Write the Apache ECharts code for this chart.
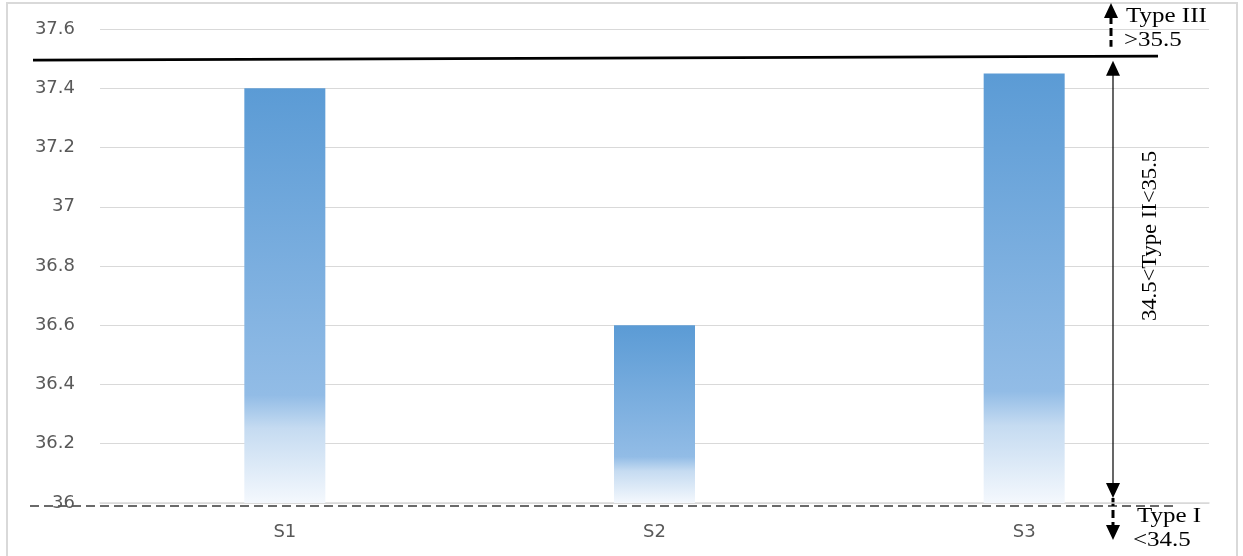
<!DOCTYPE html>
<html>
<head>
<meta charset="utf-8">
<script src="https://cdn.jsdelivr.net/npm/echarts@6/dist/echarts.min.js"></script>
<style>
  html, body { margin: 0; padding: 0; background: #fff; }
  #main { width: 1243px; height: 556px; }
</style>
</head>
<body>
<div id="main"></div>
<script>
const categories = ['S1', 'S2', 'S3']
const values = [37.4, 36.6, 37.45]
const yTicks = [36, 36.2, 36.4, 36.6, 36.8, 37, 37.2, 37.4, 37.6]
const typeIIILimit = 37.5   // solid black line
const typeILimit = 36       // dashed line at the base

const chart = echarts.init(document.getElementById('main'))

const barColor = new echarts.graphic.LinearGradient(0, 0, 0, 1, [
  { offset: 0, color: '#5b9bd5' },
  { offset: 0.74, color: '#92bce6' },
  { offset: 0.82, color: '#c5dbf1' },
  { offset: 1, color: '#f4f8fd' }
])

const options = {
  animation: false,
  grid: { left: 100, right: 34, top: 29, bottom: 53 },
  xAxis: {
    type: 'category',
    data: categories,
    axisTick: { show: false },
    axisLine: { show: true, lineStyle: { color: '#d9d9d9', width: 1.5 } },
    axisLabel: { color: '#595959', fontSize: 18, fontFamily: 'DejaVu Sans', margin: 20 }
  },
  yAxis: {
    type: 'value',
    min: yTicks[0],
    max: yTicks[yTicks.length - 1],
    interval: 0.2,
    axisLine: { show: false },
    axisTick: { show: false },
    splitLine: { lineStyle: { color: '#d9d9d9', width: 1.2 } },
    axisLabel: {
      color: '#595959', fontSize: 18, fontFamily: 'DejaVu Sans', margin: 25,
      formatter: v => String(Math.round(v * 10) / 10)
    }
  },
  series: [{
    type: 'bar',
    data: values,
    barWidth: 81,
    itemStyle: { color: barColor }
  }]
}
chart.setOption(options)

// overlay: category limits and arrows
const yTop = chart.convertToPixel({ yAxisIndex: 0 }, typeIIILimit)
const yBase = chart.convertToPixel({ yAxisIndex: 0 }, typeILimit) + 3
const ax = 1113
const serif = '20px Liberation Serif'

const arrowHead = (x, tipY, dir) => ({
  type: 'polygon',
  shape: { points: [[x, tipY], [x - 7, tipY - dir * 15], [x + 7, tipY - dir * 15]] },
  style: { fill: '#000' }
})

const label = (x, y, text) => ({
  type: 'text', x: x, y: y, scaleX: 1.25,
  style: { text: text, font: serif, fill: '#000' }
})

chart.setOption({
  graphic: [
    { type: 'rect', shape: { x: 7, y: 3, width: 1230, height: 560 }, style: { fill: 'none', stroke: '#d9d9d9', lineWidth: 2 } },
    { type: 'line', shape: { x1: 33, y1: yTop + 1.5, x2: 1158, y2: yTop - 2.5 }, style: { stroke: '#000', lineWidth: 3 } },
    { type: 'line', shape: { x1: 30, y1: yBase, x2: 1178, y2: yBase }, style: { stroke: '#3a3a3a', lineWidth: 1.5, lineDash: [9, 5] } },
    // double arrow for type II
    { type: 'line', shape: { x1: ax, y1: yTop + 14, x2: ax, y2: yBase - 22 }, style: { stroke: '#000', lineWidth: 1.2 } },
    arrowHead(ax, yTop + 2, -1),
    arrowHead(ax, yBase - 8, 1),
    // up arrow for type III
    { type: 'line', shape: { x1: ax - 2, y1: 16, x2: ax - 2, y2: yTop - 12 }, style: { stroke: '#000', lineWidth: 3, lineDash: [8, 4] } },
    arrowHead(ax - 2, 3, -1),
    // down arrow for type I
    { type: 'line', shape: { x1: ax, y1: yBase - 8, x2: ax, y2: 526 }, style: { stroke: '#000', lineWidth: 3, lineDash: [8, 4] } },
    arrowHead(ax, 540, 1),
    // labels
    label(1126, 7, 'Type III'),
    label(1124, 31, '>35.5'),
    label(1137, 507, 'Type I'),
    label(1133, 531, '<34.5'),
    {
      type: 'text', x: 1151, y: 236, rotation: Math.PI / 2, scaleX: 1.13,
      style: { text: '34.5<Type II<35.5', font: serif, fill: '#000', align: 'center', verticalAlign: 'middle' }
    }
  ]
})
</script>
</body>
</html>
